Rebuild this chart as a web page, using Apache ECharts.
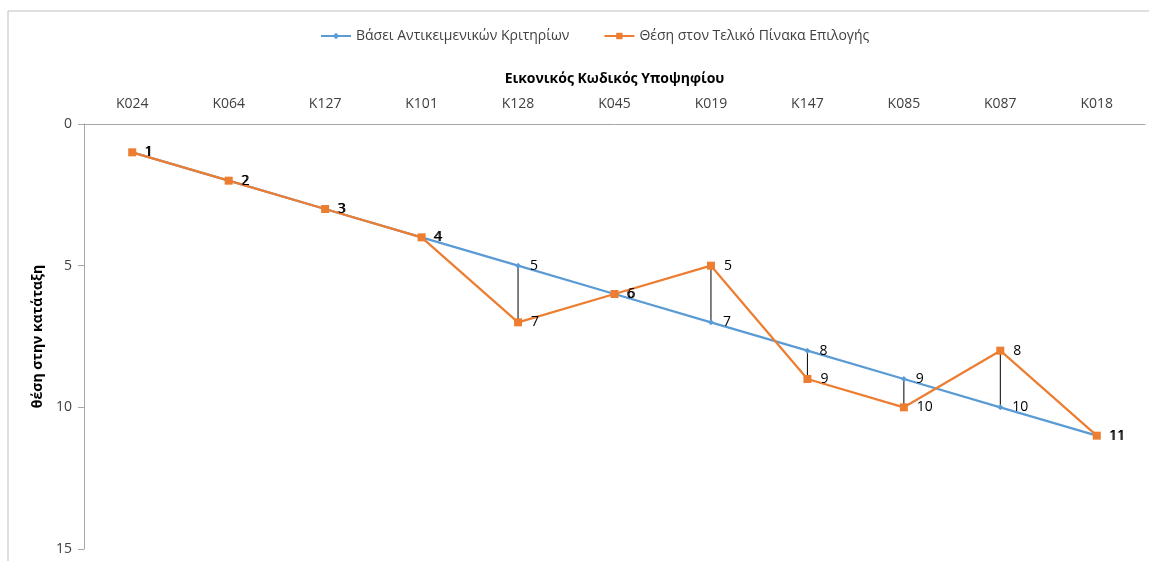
<!DOCTYPE html>
<html><head><meta charset="utf-8">
<script src="https://cdn.jsdelivr.net/npm/echarts@6/dist/echarts.min.js"></script>
<style>html,body{margin:0;padding:0;background:#fff}#c{width:1149px;height:561px}</style>
</head><body><div id="c"></div>
<script>
const categories = ['K024','K064','K127','K101','K128','K045','K019','K147','K085','K087','K018'];
const objective = [1,2,3,4,5,6,7,8,9,10,11];
const finalTable = [1,2,3,4,7,6,5,9,10,8,11];
const yTicks = {min:0, max:15, interval:5};
const seriesNames = ['Βάσει Αντικειμενικών Κριτηρίων','Θέση στον Τελικό Πίνακα Επιλογής'];
const xTitle = 'Εικονικός Κωδικός Υποψηφίου';
const yTitle = 'θέση στην κατάταξη';

const FONT = 'Open Sans';
const chart = echarts.init(document.getElementById('c'));
const dropData = categories.map((c,i)=>[i, objective[i], finalTable[i]]);
chart.setOption({
  animation:false,
  textStyle:{fontFamily:FONT},
  graphic:[{type:'rect',shape:{x:8,y:11,width:1160,height:580},style:{fill:'none',stroke:'#bfbfbf',lineWidth:1},silent:true}],
  legend:{
    top:24, left:315, itemWidth:30, itemHeight:8, itemGap:34,
    textStyle:{fontFamily:FONT,fontSize:14,color:'#404040'},
    data:seriesNames
  },
  grid:{left:84,right:4,top:124,bottom:12,containLabel:false},
  xAxis:{
    type:'category', data:categories, position:'top', boundaryGap:true,
    name:xTitle, nameLocation:'middle', nameGap:38,
    nameTextStyle:{fontFamily:FONT,fontSize:14,fontWeight:'bold',color:'#000'},
    axisLine:{lineStyle:{color:'#a6a6a6'}}, axisTick:{show:false},
    axisLabel:{fontFamily:FONT,fontSize:14,color:'#404040',margin:13}
  },
  yAxis:{
    type:'value', inverse:true, min:yTicks.min, max:yTicks.max, interval:yTicks.interval,
    name:yTitle, nameLocation:'middle', nameGap:36, nameRotate:90,
    nameTextStyle:{fontFamily:FONT,fontSize:14,fontWeight:'bold',color:'#000'},
    axisLine:{show:true,lineStyle:{color:'#a6a6a6'}},
    axisTick:{show:true,length:6,lineStyle:{color:'#a6a6a6'}},
    axisLabel:{fontFamily:FONT,fontSize:14,color:'#404040',margin:12},
    splitLine:{show:false}
  },
  series:[
    {
      type:'custom', name:'drop', silent:true, z:1,
      renderItem:function(params, api){
        const p1 = api.coord([api.value(0), api.value(1)]);
        const p2 = api.coord([api.value(0), api.value(2)]);
        return {type:'line', shape:{x1:p1[0],y1:p1[1],x2:p2[0],y2:p2[1]}, style:{stroke:'#000',lineWidth:1}};
      },
      encode:{x:0,y:[1,2]},
      data:dropData
    },
    {
      type:'line', name:seriesNames[0], data:objective, z:2,
      symbol:'diamond', symbolSize:6, showAllSymbol:true,
      lineStyle:{color:'#5B9BD5',width:2.25}, itemStyle:{color:'#5B9BD5'},
      label:{show:true,position:'right',distance:9,fontFamily:FONT,fontSize:14,color:'#000'}
    },
    {
      type:'line', name:seriesNames[1], data:finalTable, z:3,
      symbol:'rect', symbolSize:8, showAllSymbol:true,
      lineStyle:{color:'#ED7D31',width:2.25}, itemStyle:{color:'#ED7D31'},
      label:{show:true,position:'right',distance:9,fontFamily:FONT,fontSize:14,color:'#000'}
    }
  ]
});
</script></body></html>
